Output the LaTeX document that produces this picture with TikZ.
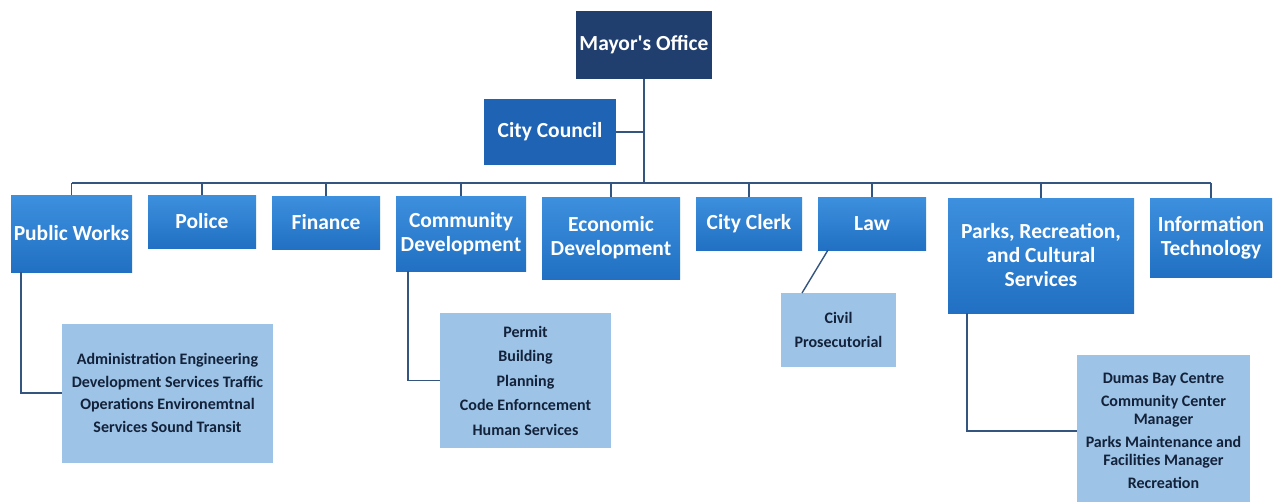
\documentclass[tikz,border=0pt]{standalone}
\usepackage{fontspec}
\setmainfont{Carlito}
\definecolor{mayorc}{HTML}{203F6E}
\definecolor{councilc}{HTML}{1F63B5}
\definecolor{depttop}{HTML}{3D90DE}
\definecolor{deptbot}{HTML}{2170C3}
\definecolor{subc}{HTML}{9DC3E6}
\definecolor{subtext}{HTML}{13223A}
\definecolor{linec}{HTML}{34557F}
\tikzset{
  box/.style={inner sep=0pt, outer sep=0pt, align=center, font=\fontsize{21.5}{24}\selectfont\bfseries, text=white},
  mayorbox/.style={box, fill=mayorc},
  councilbox/.style={box, fill=councilc},
  deptbox/.style={box, top color=depttop, bottom color=deptbot},
  subbox/.style={inner sep=0pt, outer sep=0pt, align=center, fill=subc, text=subtext, font=\fontsize{16}{17.5}\selectfont\bfseries},
  conn/.style={draw=linec, line width=1.4pt},
}
\begin{document}
\begin{tikzpicture}[x=1pt, y=-1pt]
\path[use as bounding box, clip] (0,0) rectangle (1276,501);
\fill[white] (0,0) rectangle (1276,501);
\coordinate (bus) at (0,183);
% top
\node[mayorbox, minimum width=136pt, minimum height=68pt] (mayor) at (644,45) {Mayor\textquotesingle s Office};
\node[councilbox, minimum width=132pt, minimum height=66pt] (council) at (550,132) {City Council};
% departments
\node[deptbox, minimum width=121pt, minimum height=77pt] (pw) at (71.5,233.5) {Public Works};
\node[deptbox, minimum width=108pt, minimum height=53pt] (police) at (202,221.5) {Police};
\node[deptbox, minimum width=108pt, minimum height=53pt] (fin) at (326,222.5) {Finance};
\node[deptbox, minimum width=130pt, minimum height=75pt] (cd) at (461,233.5) {Community\\Development};
\node[deptbox, minimum width=138pt, minimum height=82pt] (ed) at (611,238) {Economic\\Development};
\node[deptbox, minimum width=106pt, minimum height=53pt] (clerk) at (749,223.5) {City Clerk};
\node[deptbox, minimum width=108pt, minimum height=53pt] (law) at (872,223.5) {Law};
\node[deptbox, minimum width=186pt, minimum height=115pt] (parks) at (1041,255.5) {Parks, Recreation,\\and Cultural\\Services};
\node[deptbox, minimum width=122pt, minimum height=79pt] (it) at (1211,237.5) {Information\\Technology};
% sub boxes
\node[subbox, minimum width=211pt, minimum height=139pt] (pwsub) at (167.5,393) {Administration Engineering\\[5pt]Development Services Traffic\\[5pt]Operations Environemtnal\\[5pt]Services Sound Transit};
\node[subbox, minimum width=171pt, minimum height=135pt] (cdsub) at (525.5,380.5) {Permit\\[7pt]Building\\[7pt]Planning\\[7pt]Code Enforncement\\[7pt]Human Services};
\node[subbox, minimum width=115pt, minimum height=74pt] (lawsub) at (838.5,330) {Civil\\[6pt]Prosecutorial};
\node[subbox, minimum width=173pt, minimum height=152pt] (parksub) at (1163.5,431) {Dumas Bay Centre\\[6pt]Community Center\\Manager\\[6pt]Parks Maintenance and\\Facilities Manager\\[6pt]Recreation};
% connectors
\draw[conn] (mayor.south) -- (mayor.south |- bus);
\draw[conn] (council.east) -- (council.east -| mayor.south);
\draw[conn] (pw.north |- bus) -- (it.north |- bus);
\foreach \d in {pw,police,fin,cd,ed,clerk,law,parks,it}
  \draw[conn] (\d.north) -- (\d.north |- bus);
\draw[conn] ([xshift=10pt]pw.south west) |- (pwsub.west);
\draw[conn] ([xshift=12pt]cd.south west) |- (cdsub.west);
\draw[conn] ([xshift=10pt]law.south west) -- ([xshift=21pt]lawsub.north west);
\draw[conn] ([xshift=19pt]parks.south west) |- (parksub.west);
\end{tikzpicture}
\end{document}
